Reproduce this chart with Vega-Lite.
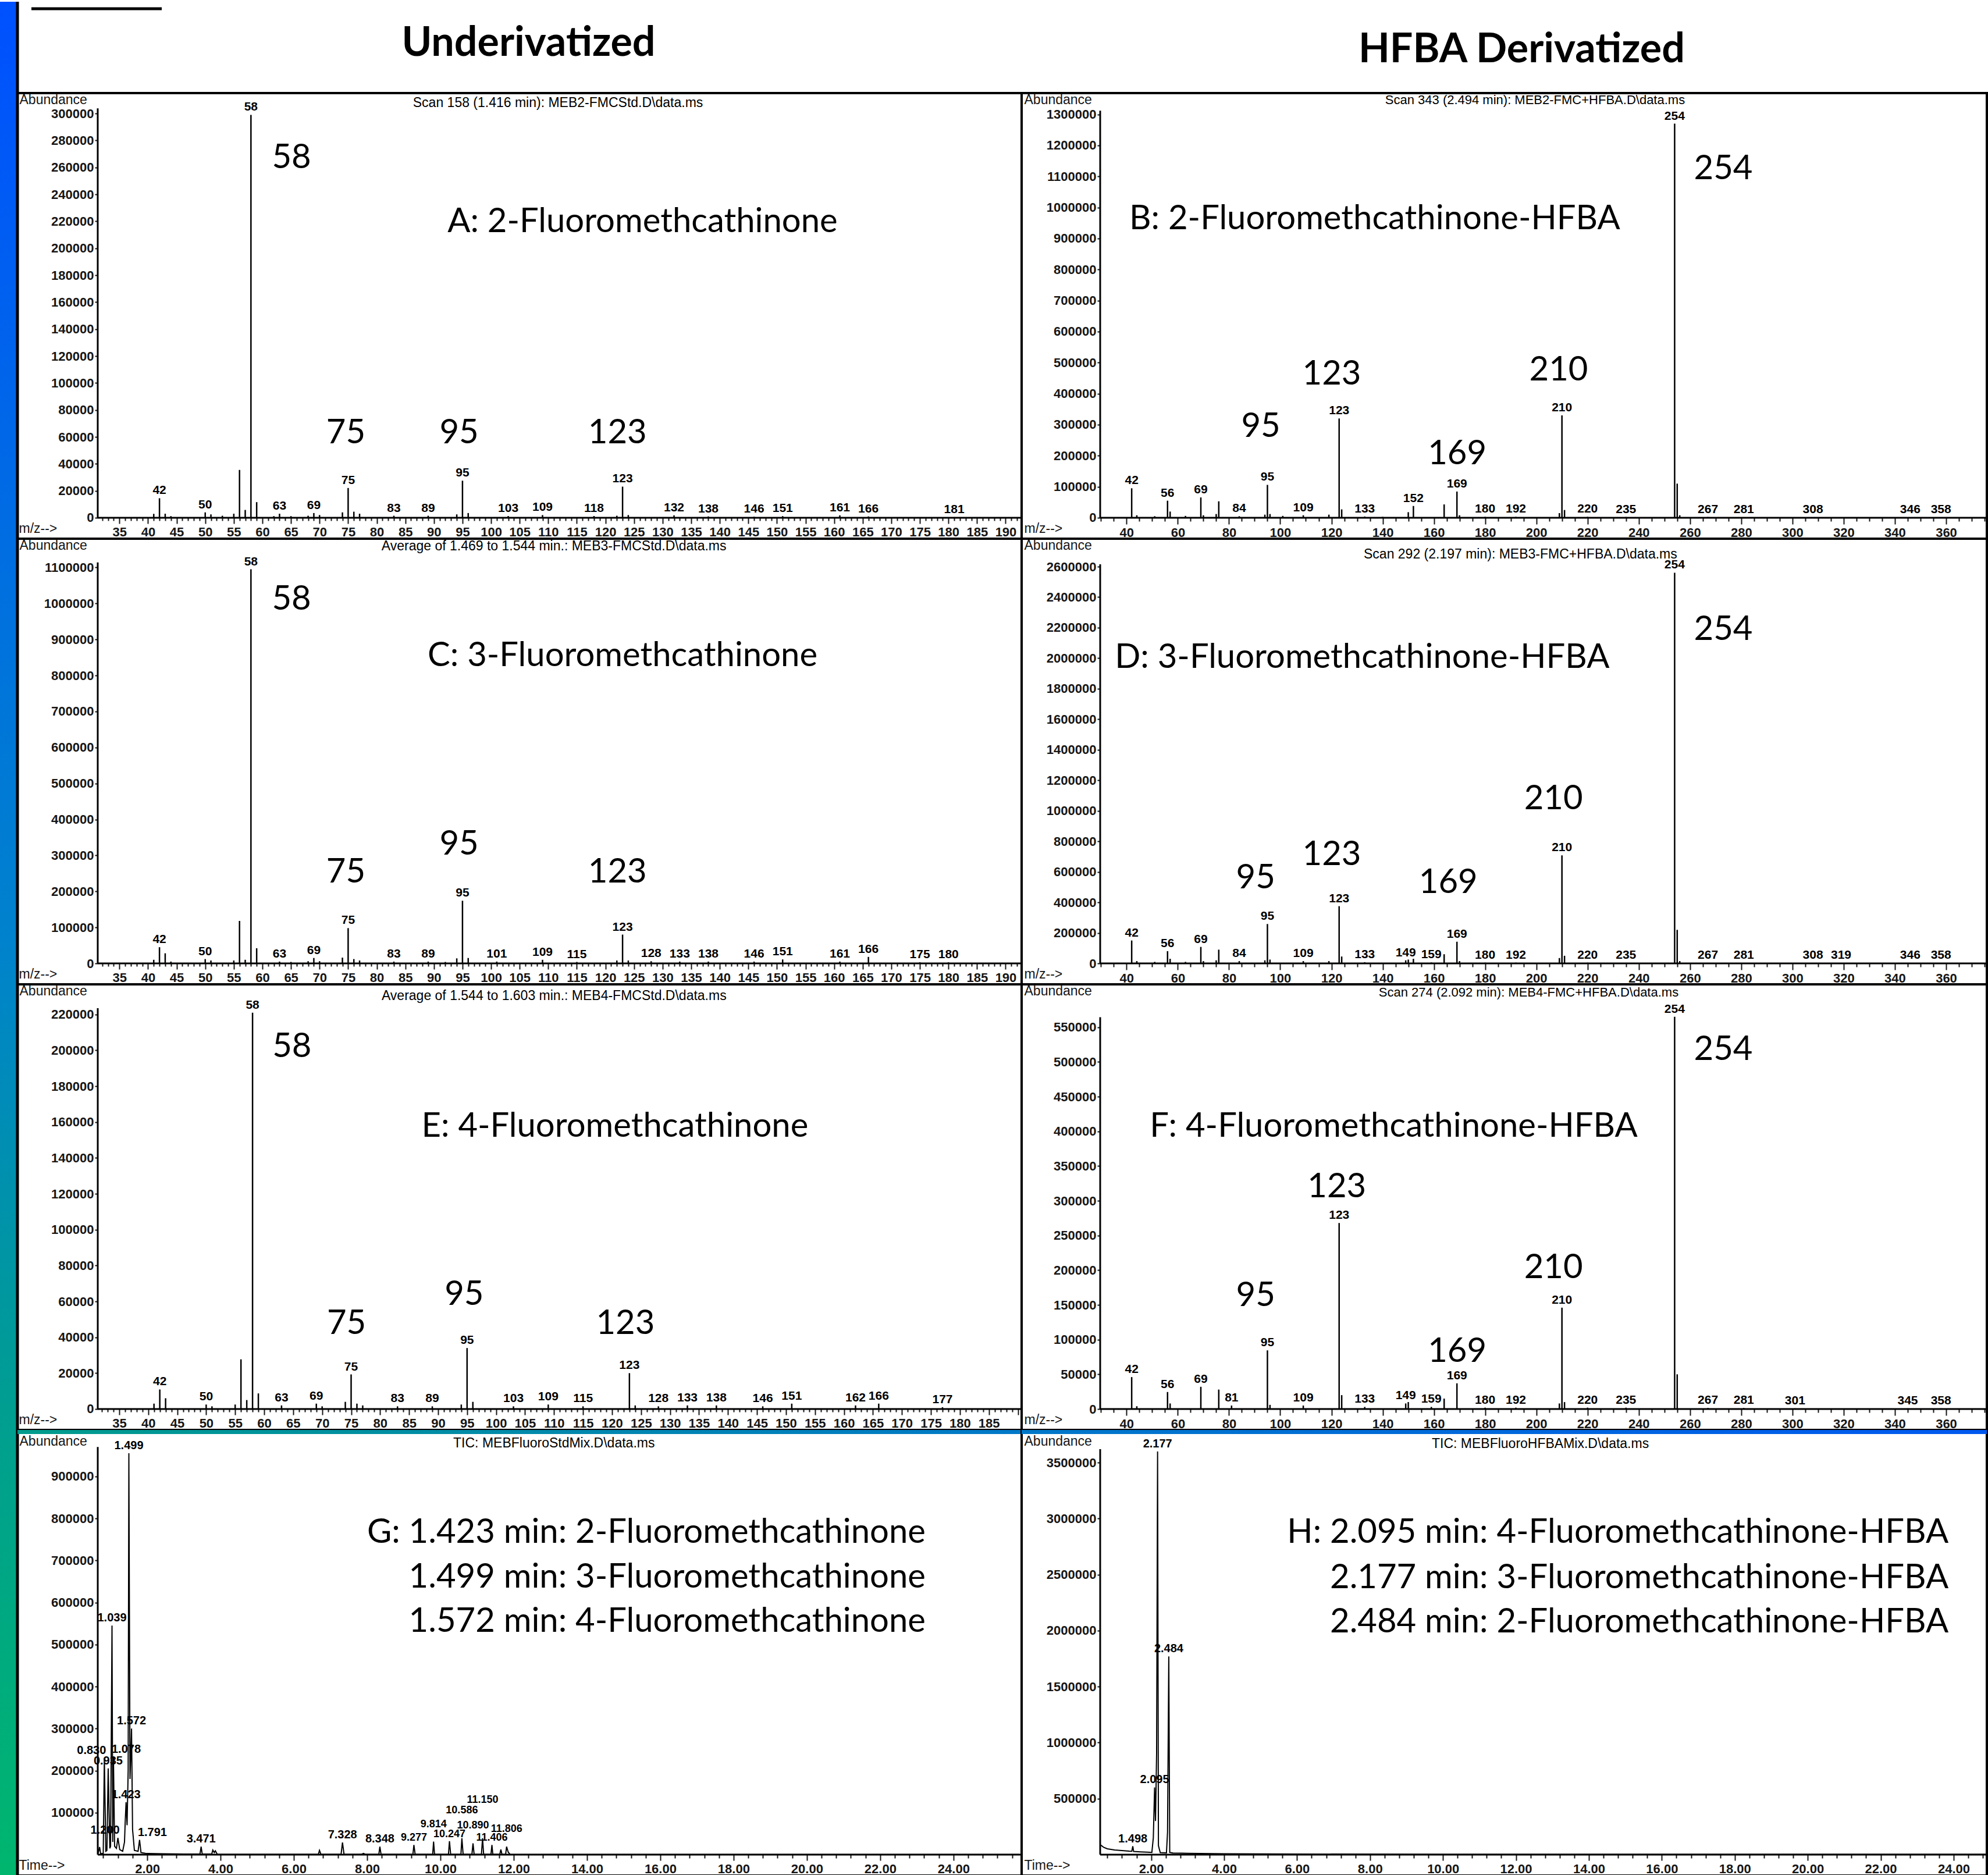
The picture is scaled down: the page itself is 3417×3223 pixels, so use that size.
{
"$schema":"https://vega.github.io/schema/vega-lite/v6.json",
"padding":0,
"background":"white",
"columns":3,
"spacing":0,
"bounds":"flush",
"config":{
 "view":{"stroke":"black","strokeWidth":4},
 "axis":{"grid":false,"domain":false,"labelFont":"Liberation Sans","labelFontSize":22,"labelFontWeight":"bold","labelColor":"#161616","tickColor":"#161616","tickWidth":2,"titleFont":"Liberation Sans","titleFontSize":23,"titleFontWeight":"normal","titleColor":"#161616","labelOverlap":false,"labelFlush":false,"labelBound":false},
 "text":{"color":"black"},
 "rule":{"color":"black"},
 "line":{"color":"black"}
},
"concat":[
{"width":30,"height":157,"view":{"stroke":null},
 "data":{"values":[{"x0":0,"x1":1,"y0":0,"y1":1}]},
 "encoding":{"x":{"field":"x0","type":"quantitative","scale":{"domain":[0,1],"nice":false,"zero":false},"axis":null},"y":{"field":"y0","type":"quantitative","scale":{"domain":[0,1],"nice":false},"axis":null}},
 "layer":[
  {"mark":{"type":"rect","color":{"gradient":"linear","x1":0,"y1":0,"x2":0,"y2":1,"stops":[{"offset":0,"color":"#0050FF"},{"offset":1,"color":"#0055FA"}]}},"encoding":{"x2":{"field":"x1"},"y2":{"field":"y1"}}},
  {"mark":{"type":"rule","strokeWidth":5},"encoding":{"x":{"field":"x1","type":"quantitative"},"y2":{"field":"y1"}}}
 ]},
{"width":1726,"height":157,"view":{"stroke":null},
 "encoding":{"x":{"field":"x","type":"quantitative","scale":{"domain":[0,1],"nice":false,"zero":false},"axis":null},"y":{"field":"y","type":"quantitative","scale":{"domain":[0,1],"nice":false},"axis":null}},
 "layer":[
  {"data":{"values":[{"x":0.509,"y":0.541,"t":"Underivatized"}]},"mark":{"type":"text","font":"Lato","fontWeight":"bold","fontSize":70,"align":"center","baseline":"middle"},"encoding":{"text":{"field":"t"}}},
  {"data":{"values":[{"x":0.0139,"x2":0.1437,"y":0.924}]},"mark":{"type":"rule","strokeWidth":5},"encoding":{"x2":{"field":"x2"}}}
 ]},
{"width":1659,"height":157,"view":{"stroke":null},
 "data":{"values":[{"x":0.518,"y":0.471,"t":"HFBA Derivatized"}]},
 "mark":{"type":"text","font":"Lato","fontWeight":"bold","fontSize":70,"align":"center","baseline":"middle"},
 "encoding":{"x":{"field":"x","type":"quantitative","scale":{"domain":[0,1],"nice":false,"zero":false},"axis":null},"y":{"field":"y","type":"quantitative","scale":{"domain":[0,1],"nice":false},"axis":null},"text":{"field":"t"}}},

{"width":30,"height":766,"view":{"stroke":null},
 "data":{"values":[{"x0":0,"x1":1,"y0":0,"y1":1}]},
 "encoding":{"x":{"field":"x0","type":"quantitative","scale":{"domain":[0,1],"nice":false,"zero":false},"axis":null},"y":{"field":"y0","type":"quantitative","scale":{"domain":[0,1],"nice":false},"axis":null}},
 "layer":[
  {"mark":{"type":"rect","color":{"gradient":"linear","x1":0,"y1":0,"x2":0,"y2":1,"stops":[{"offset":0,"color":"#0055FA"},{"offset":1,"color":"#006DE2"}]}},"encoding":{"x2":{"field":"x1"},"y2":{"field":"y1"}}},
  {"mark":{"type":"rule","strokeWidth":5},"encoding":{"x":{"field":"x1","type":"quantitative"},"y2":{"field":"y1"}}}
 ]},
{"width":1726,"height":766,
 "data":{"values":[{"x":41,"y":2900},{"x":42,"y":14500,"lab":"42"},{"x":43,"y":3000},{"x":44,"y":1200},{"x":50,"y":4000,"lab":"50"},{"x":51,"y":2500},{"x":53,"y":1500},{"x":55,"y":3000},{"x":56,"y":35500},{"x":57,"y":5800},{"x":58,"y":299000,"lab":"58"},{"x":59,"y":11600},{"x":62,"y":1200},{"x":63,"y":3000,"lab":"63"},{"x":65,"y":1200},{"x":68,"y":1500},{"x":69,"y":3500,"lab":"69"},{"x":70,"y":2000},{"x":74,"y":4000},{"x":75,"y":22100,"lab":"75"},{"x":76,"y":4500},{"x":77,"y":3000},{"x":83,"y":1500,"lab":"83"},{"x":89,"y":1500,"lab":"89"},{"x":94,"y":2500},{"x":95,"y":27500,"lab":"95"},{"x":96,"y":3500},{"x":103,"y":1300,"lab":"103"},{"x":109,"y":2000,"lab":"109"},{"x":118,"y":1300,"lab":"118"},{"x":122,"y":1500},{"x":123,"y":23100,"lab":"123"},{"x":124,"y":2000},{"x":132,"y":1800,"lab":"132"},{"x":138,"y":1000,"lab":"138"},{"x":146,"y":800,"lab":"146"},{"x":151,"y":1200,"lab":"151"},{"x":161,"y":1800,"lab":"161"},{"x":166,"y":1000,"lab":"166"},{"x":181,"y":500,"lab":"181"}]},
 "encoding":{
  "x":{"field":"x","type":"quantitative","scale":{"domain":[17.16,192.8],"nice":false,"zero":false},
   "axis":{"values":[32,33,34,35,36,37,38,39,40,41,42,43,44,45,46,47,48,49,50,51,52,53,54,55,56,57,58,59,60,61,62,63,64,65,66,67,68,69,70,71,72,73,74,75,76,77,78,79,80,81,82,83,84,85,86,87,88,89,90,91,92,93,94,95,96,97,98,99,100,101,102,103,104,105,106,107,108,109,110,111,112,113,114,115,116,117,118,119,120,121,122,123,124,125,126,127,128,129,130,131,132,133,134,135,136,137,138,139,140,141,142,143,144,145,146,147,148,149,150,151,152,153,154,155,156,157,158,159,160,161,162,163,164,165,166,167,168,169,170,171,172,173,174,175,176,177,178,179,180,181,182,183,184,185,186,187,188,189,190,191,192],"format":"d","labelExpr":"datum.value % 5 === 0 && datum.value >= 35 && datum.value <= 190 ? datum.label : ''","tickSize":{"condition":{"test":"datum.value % 5 === 0","value":10},"value":5},"labelPadding":4,"offset":-36,"title":"m/z-->","titleX":2,"titleY":18,"titleAlign":"left","titleBaseline":"middle","titleAngle":0}},
  "y":{"field":"y","type":"quantitative","scale":{"domain":[-15542,315150],"nice":false,"zero":false},
   "axis":{"values":[0,20000,40000,60000,80000,100000,120000,140000,160000,180000,200000,220000,240000,260000,280000,300000],"format":"d","tickSize":5,"labelPadding":2,"offset":-138,"title":"Abundance","titleX":-135,"titleY":11,"titleAlign":"left","titleBaseline":"middle","titleAngle":0}}
 },
 "layer":[
  {"mark":{"type":"rule","strokeWidth":2.5},"encoding":{"y2":{"datum":0}}},
  {"transform":[{"filter":"isValid(datum.lab)"}],"mark":{"type":"text","baseline":"bottom","dy":-3,"font":"Liberation Sans","fontSize":21,"fontWeight":"bold"},"encoding":{"text":{"field":"lab"}}},
  {"data":{"values":[{"x":65.1,"y":266900,"t":"58"},{"x":74.6,"y":62500,"t":"75"},{"x":94.4,"y":62500,"t":"95"},{"x":122.1,"y":62500,"t":"123"},{"x":126.5,"y":219500,"t":"A: 2-Fluoromethcathinone"}]},"mark":{"type":"text","font":"Lato","fontSize":58,"baseline":"middle"},"encoding":{"text":{"field":"t"}}},
  {"data":{"values":[{"x":111.7,"y":307600,"t":"Scan 158 (1.416 min): MEB2-FMCStd.D\\data.ms"}]},"mark":{"type":"text","font":"Liberation Sans","fontSize":23,"baseline":"middle"},"encoding":{"text":{"field":"t"}}},
  {"data":{"values":[{"x":31.2,"x2":192.8,"y":0}]},"mark":{"type":"rule","strokeWidth":3},"encoding":{"x2":{"field":"x2"}}},
  {"data":{"values":[{"x":31.2,"y":0,"y2":303800}]},"mark":{"type":"rule","strokeWidth":3},"encoding":{"y2":{"field":"y2"}}}
 ]},
{"width":1659,"height":766,
 "data":{"values":[{"x":42,"y":95000,"lab":"42"},{"x":44,"y":8000},{"x":51,"y":5000},{"x":56,"y":55000,"lab":"56"},{"x":57,"y":20000},{"x":63,"y":6000},{"x":69,"y":65500,"lab":"69"},{"x":70,"y":8000},{"x":75,"y":12000},{"x":76,"y":53000},{"x":84,"y":5000,"lab":"84"},{"x":94,"y":10000},{"x":95,"y":106000,"lab":"95"},{"x":96,"y":12000},{"x":101,"y":6000},{"x":109,"y":8000,"lab":"109"},{"x":119,"y":10000},{"x":123,"y":320000,"lab":"123"},{"x":124,"y":27000},{"x":133,"y":4000,"lab":"133"},{"x":140,"y":3000},{"x":150,"y":18000},{"x":152,"y":38000,"lab":"152"},{"x":164,"y":43000},{"x":169,"y":84500,"lab":"169"},{"x":170,"y":8000},{"x":180,"y":3000,"lab":"180"},{"x":192,"y":3000,"lab":"192"},{"x":209,"y":15000},{"x":210,"y":330000,"lab":"210"},{"x":211,"y":25000},{"x":220,"y":3000,"lab":"220"},{"x":235,"y":2500,"lab":"235"},{"x":254,"y":1270000,"lab":"254"},{"x":255,"y":110000},{"x":256,"y":8000},{"x":267,"y":2500,"lab":"267"},{"x":281,"y":2000,"lab":"281"},{"x":308,"y":1500,"lab":"308"},{"x":346,"y":1500,"lab":"346"},{"x":358,"y":1500,"lab":"358"}]},
 "encoding":{
  "x":{"field":"x","type":"quantitative","scale":{"domain":[-0.97,375.9],"nice":false,"zero":false},
   "axis":{"values":[30,35,40,45,50,55,60,65,70,75,80,85,90,95,100,105,110,115,120,125,130,135,140,145,150,155,160,165,170,175,180,185,190,195,200,205,210,215,220,225,230,235,240,245,250,255,260,265,270,275,280,285,290,295,300,305,310,315,320,325,330,335,340,345,350,355,360,365,370,375],"format":"d","labelExpr":"datum.value % 20 === 0 && datum.value >= 40 && datum.value <= 360 ? datum.label : ''","tickSize":{"condition":{"test":"datum.value % 20 === 0","value":11},"value":6},"labelPadding":4,"offset":-36,"title":"m/z-->","titleX":4,"titleY":18,"titleAlign":"left","titleBaseline":"middle","titleAngle":0}},
  "y":{"field":"y","type":"quantitative","scale":{"domain":[-67495,1368600],"nice":false,"zero":false},
   "axis":{"values":[0,100000,200000,300000,400000,500000,600000,700000,800000,900000,1000000,1100000,1200000,1300000],"format":"d","tickSize":5,"labelPadding":2,"offset":-135,"title":"Abundance","titleX":-131,"titleY":11,"titleAlign":"left","titleBaseline":"middle","titleAngle":0}}
 },
 "layer":[
  {"mark":{"type":"rule","strokeWidth":2.5},"encoding":{"y2":{"datum":0}}},
  {"transform":[{"filter":"isValid(datum.lab)"}],"mark":{"type":"text","baseline":"bottom","dy":-3,"font":"Liberation Sans","fontSize":21,"fontWeight":"bold"},"encoding":{"text":{"field":"lab"}}},
  {"data":{"values":[{"x":273.0,"y":1122800,"t":"254"},{"x":120.1,"y":462000,"t":"123"},{"x":208.7,"y":474000,"t":"210"},{"x":92.4,"y":293000,"t":"95"},{"x":169.1,"y":204000,"t":"169"},{"x":136.9,"y":961000,"t":"B: 2-Fluoromethcathinone-HFBA"}]},"mark":{"type":"text","font":"Lato","fontSize":58,"baseline":"middle"},"encoding":{"text":{"field":"t"}}},
  {"data":{"values":[{"x":199.5,"y":1347000,"t":"Scan 343 (2.494 min): MEB2-FMC+HFBA.D\\data.ms"}]},"mark":{"type":"text","font":"Liberation Sans","fontSize":22,"baseline":"middle"},"encoding":{"text":{"field":"t"}}},
  {"data":{"values":[{"x":29.7,"x2":375.9,"y":0}]},"mark":{"type":"rule","strokeWidth":3},"encoding":{"x2":{"field":"x2"}}},
  {"data":{"values":[{"x":29.7,"y":0,"y2":1312000}]},"mark":{"type":"rule","strokeWidth":3},"encoding":{"y2":{"field":"y2"}}}
 ]},

{"width":30,"height":766,"view":{"stroke":null},
 "data":{"values":[{"x0":0,"x1":1,"y0":0,"y1":1}]},
 "encoding":{"x":{"field":"x0","type":"quantitative","scale":{"domain":[0,1],"nice":false,"zero":false},"axis":null},"y":{"field":"y0","type":"quantitative","scale":{"domain":[0,1],"nice":false},"axis":null}},
 "layer":[
  {"mark":{"type":"rect","color":{"gradient":"linear","x1":0,"y1":0,"x2":0,"y2":1,"stops":[{"offset":0,"color":"#006DE2"},{"offset":0.8975,"color":"#0082CD"},{"offset":1,"color":"#0085C7"}]}},"encoding":{"x2":{"field":"x1"},"y2":{"field":"y1"}}},
  {"mark":{"type":"rule","strokeWidth":5},"encoding":{"x":{"field":"x1","type":"quantitative"},"y2":{"field":"y1"}}}
 ]},
{"width":1726,"height":766,
 "data":{"values":[{"x":41,"y":10000},{"x":42,"y":45000,"lab":"42"},{"x":43,"y":28000},{"x":44,"y":5000},{"x":50,"y":12000,"lab":"50"},{"x":51,"y":8000},{"x":55,"y":8000},{"x":56,"y":118000},{"x":57,"y":10000},{"x":58,"y":1095000,"lab":"58"},{"x":59,"y":42000},{"x":63,"y":5000,"lab":"63"},{"x":65,"y":4000},{"x":68,"y":6000},{"x":69,"y":15000,"lab":"69"},{"x":70,"y":6000},{"x":74,"y":16000},{"x":75,"y":98000,"lab":"75"},{"x":76,"y":12000},{"x":77,"y":8000},{"x":83,"y":5000,"lab":"83"},{"x":89,"y":5000,"lab":"89"},{"x":92,"y":4000},{"x":94,"y":14000},{"x":95,"y":174000,"lab":"95"},{"x":96,"y":15000},{"x":101,"y":5000,"lab":"101"},{"x":109,"y":10000,"lab":"109"},{"x":115,"y":4000,"lab":"115"},{"x":122,"y":8000},{"x":123,"y":80000,"lab":"123"},{"x":124,"y":8000},{"x":128,"y":6000,"lab":"128"},{"x":133,"y":5000,"lab":"133"},{"x":138,"y":5000,"lab":"138"},{"x":146,"y":5000,"lab":"146"},{"x":151,"y":11000,"lab":"151"},{"x":161,"y":5000,"lab":"161"},{"x":166,"y":18000,"lab":"166"},{"x":175,"y":3000,"lab":"175"},{"x":180,"y":3000,"lab":"180"}]},
 "encoding":{
  "x":{"field":"x","type":"quantitative","scale":{"domain":[17.16,192.8],"nice":false,"zero":false},
   "axis":{"values":[32,33,34,35,36,37,38,39,40,41,42,43,44,45,46,47,48,49,50,51,52,53,54,55,56,57,58,59,60,61,62,63,64,65,66,67,68,69,70,71,72,73,74,75,76,77,78,79,80,81,82,83,84,85,86,87,88,89,90,91,92,93,94,95,96,97,98,99,100,101,102,103,104,105,106,107,108,109,110,111,112,113,114,115,116,117,118,119,120,121,122,123,124,125,126,127,128,129,130,131,132,133,134,135,136,137,138,139,140,141,142,143,144,145,146,147,148,149,150,151,152,153,154,155,156,157,158,159,160,161,162,163,164,165,166,167,168,169,170,171,172,173,174,175,176,177,178,179,180,181,182,183,184,185,186,187,188,189,190,191,192],"format":"d","labelExpr":"datum.value % 5 === 0 && datum.value >= 35 && datum.value <= 190 ? datum.label : ''","tickSize":{"condition":{"test":"datum.value % 5 === 0","value":10},"value":5},"labelPadding":4,"offset":-36,"title":"m/z-->","titleX":2,"titleY":18,"titleAlign":"left","titleBaseline":"middle","titleAngle":0}},
  "y":{"field":"y","type":"quantitative","scale":{"domain":[-58187,1179900],"nice":false,"zero":false},
   "axis":{"values":[0,100000,200000,300000,400000,500000,600000,700000,800000,900000,1000000,1100000],"format":"d","tickSize":5,"labelPadding":2,"offset":-138,"title":"Abundance","titleX":-135,"titleY":11,"titleAlign":"left","titleBaseline":"middle","titleAngle":0}}
 },
 "layer":[
  {"mark":{"type":"rule","strokeWidth":2.5},"encoding":{"y2":{"datum":0}}},
  {"transform":[{"filter":"isValid(datum.lab)"}],"mark":{"type":"text","baseline":"bottom","dy":-3,"font":"Liberation Sans","fontSize":21,"fontWeight":"bold"},"encoding":{"text":{"field":"lab"}}},
  {"data":{"values":[{"x":65.1,"y":1009700,"t":"58"},{"x":74.6,"y":252800,"t":"75"},{"x":94.4,"y":329200,"t":"95"},{"x":122.1,"y":252800,"t":"123"},{"x":123.0,"y":853500,"t":"C: 3-Fluoromethcathinone"}]},"mark":{"type":"text","font":"Lato","fontSize":58,"baseline":"middle"},"encoding":{"text":{"field":"t"}}},
  {"data":{"values":[{"x":111.0,"y":1159000,"t":"Average of 1.469 to 1.544 min.: MEB3-FMCStd.D\\data.ms"}]},"mark":{"type":"text","font":"Liberation Sans","fontSize":23,"baseline":"middle"},"encoding":{"text":{"field":"t"}}},
  {"data":{"values":[{"x":31.2,"x2":192.8,"y":0}]},"mark":{"type":"rule","strokeWidth":3},"encoding":{"x2":{"field":"x2"}}},
  {"data":{"values":[{"x":31.2,"y":0,"y2":1114000}]},"mark":{"type":"rule","strokeWidth":3},"encoding":{"y2":{"field":"y2"}}}
 ]},
{"width":1659,"height":766,
 "data":{"values":[{"x":42,"y":150000,"lab":"42"},{"x":44,"y":15000},{"x":51,"y":10000},{"x":56,"y":80000,"lab":"56"},{"x":57,"y":30000},{"x":63,"y":10000},{"x":69,"y":108000,"lab":"69"},{"x":70,"y":15000},{"x":75,"y":20000},{"x":76,"y":90000},{"x":84,"y":15000,"lab":"84"},{"x":94,"y":20000},{"x":95,"y":258000,"lab":"95"},{"x":96,"y":25000},{"x":109,"y":15000,"lab":"109"},{"x":119,"y":15000},{"x":123,"y":375000,"lab":"123"},{"x":124,"y":45000},{"x":133,"y":8000,"lab":"133"},{"x":149,"y":20000,"lab":"149"},{"x":150,"y":25000},{"x":152,"y":30000},{"x":159,"y":6000,"lab":"159"},{"x":164,"y":60000},{"x":169,"y":142000,"lab":"169"},{"x":170,"y":15000},{"x":180,"y":5000,"lab":"180"},{"x":192,"y":5000,"lab":"192"},{"x":209,"y":35000},{"x":210,"y":708000,"lab":"210"},{"x":211,"y":50000},{"x":220,"y":5000,"lab":"220"},{"x":235,"y":4000,"lab":"235"},{"x":254,"y":2560000,"lab":"254"},{"x":255,"y":220000},{"x":256,"y":15000},{"x":267,"y":4000,"lab":"267"},{"x":281,"y":3000,"lab":"281"},{"x":308,"y":2000,"lab":"308"},{"x":319,"y":2000,"lab":"319"},{"x":346,"y":2000,"lab":"346"},{"x":358,"y":2000,"lab":"358"}]},
 "encoding":{
  "x":{"field":"x","type":"quantitative","scale":{"domain":[-0.97,375.9],"nice":false,"zero":false},
   "axis":{"values":[30,35,40,45,50,55,60,65,70,75,80,85,90,95,100,105,110,115,120,125,130,135,140,145,150,155,160,165,170,175,180,185,190,195,200,205,210,215,220,225,230,235,240,245,250,255,260,265,270,275,280,285,290,295,300,305,310,315,320,325,330,335,340,345,350,355,360,365,370,375],"format":"d","labelExpr":"datum.value % 20 === 0 && datum.value >= 40 && datum.value <= 360 ? datum.label : ''","tickSize":{"condition":{"test":"datum.value % 20 === 0","value":11},"value":6},"labelPadding":4,"offset":-36,"title":"m/z-->","titleX":4,"titleY":18,"titleAlign":"left","titleBaseline":"middle","titleAngle":0}},
  "y":{"field":"y","type":"quantitative","scale":{"domain":[-137244,2783000],"nice":false,"zero":false},
   "axis":{"values":[0,200000,400000,600000,800000,1000000,1200000,1400000,1600000,1800000,2000000,2200000,2400000,2600000],"format":"d","tickSize":5,"labelPadding":2,"offset":-135,"title":"Abundance","titleX":-131,"titleY":11,"titleAlign":"left","titleBaseline":"middle","titleAngle":0}}
 },
 "layer":[
  {"mark":{"type":"rule","strokeWidth":2.5},"encoding":{"y2":{"datum":0}}},
  {"transform":[{"filter":"isValid(datum.lab)"}],"mark":{"type":"text","baseline":"bottom","dy":-3,"font":"Liberation Sans","fontSize":21,"fontWeight":"bold"},"encoding":{"text":{"field":"lab"}}},
  {"data":{"values":[{"x":273.0,"y":2183000,"t":"254"},{"x":206.7,"y":1075000,"t":"210"},{"x":120.1,"y":708000,"t":"123"},{"x":165.6,"y":525000,"t":"169"},{"x":90.4,"y":558000,"t":"95"},{"x":132.0,"y":2000000,"t":"D: 3-Fluoromethcathinone-HFBA"}]},"mark":{"type":"text","font":"Lato","fontSize":58,"baseline":"middle"},"encoding":{"text":{"field":"t"}}},
  {"data":{"values":[{"x":193.8,"y":2680000,"t":"Scan 292 (2.197 min): MEB3-FMC+HFBA.D\\data.ms"}]},"mark":{"type":"text","font":"Liberation Sans","fontSize":23,"baseline":"middle"},"encoding":{"text":{"field":"t"}}},
  {"data":{"values":[{"x":29.7,"x2":375.9,"y":0}]},"mark":{"type":"rule","strokeWidth":3},"encoding":{"x2":{"field":"x2"}}},
  {"data":{"values":[{"x":29.7,"y":0,"y2":2615000}]},"mark":{"type":"rule","strokeWidth":3},"encoding":{"y2":{"field":"y2"}}}
 ]},

{"width":30,"height":766,"view":{"stroke":null},
 "data":{"values":[{"x0":0,"x1":1,"y0":0,"y1":1}]},
 "encoding":{"x":{"field":"x0","type":"quantitative","scale":{"domain":[0,1],"nice":false,"zero":false},"axis":null},"y":{"field":"y0","type":"quantitative","scale":{"domain":[0,1],"nice":false},"axis":null}},
 "layer":[
  {"mark":{"type":"rect","color":{"gradient":"linear","x1":0,"y1":0,"x2":0,"y2":1,"stops":[{"offset":0,"color":"#0085C7"},{"offset":0.9488,"color":"#009E91"},{"offset":1,"color":"#009F8F"}]}},"encoding":{"x2":{"field":"x1"},"y2":{"field":"y1"}}},
  {"mark":{"type":"rule","strokeWidth":5},"encoding":{"x":{"field":"x1","type":"quantitative"},"y2":{"field":"y1"}}}
 ]},
{"width":1726,"height":766,
 "data":{"values":[{"x":41,"y":3000},{"x":42,"y":10900,"lab":"42"},{"x":43,"y":6000},{"x":50,"y":2500,"lab":"50"},{"x":51,"y":1500},{"x":55,"y":2500},{"x":56,"y":27700},{"x":57,"y":5000},{"x":58,"y":221000,"lab":"58"},{"x":59,"y":8700},{"x":63,"y":2000,"lab":"63"},{"x":69,"y":3000,"lab":"69"},{"x":70,"y":1500},{"x":74,"y":4000},{"x":75,"y":19300,"lab":"75"},{"x":76,"y":3000},{"x":77,"y":2000},{"x":83,"y":1500,"lab":"83"},{"x":89,"y":1500,"lab":"89"},{"x":94,"y":2500},{"x":95,"y":34000,"lab":"95"},{"x":96,"y":4000},{"x":103,"y":1500,"lab":"103"},{"x":109,"y":2500,"lab":"109"},{"x":115,"y":1500,"lab":"115"},{"x":123,"y":20000,"lab":"123"},{"x":124,"y":2000},{"x":128,"y":1500,"lab":"128"},{"x":133,"y":2000,"lab":"133"},{"x":138,"y":2000,"lab":"138"},{"x":146,"y":1500,"lab":"146"},{"x":151,"y":3000,"lab":"151"},{"x":162,"y":2000,"lab":"162"},{"x":166,"y":3000,"lab":"166"},{"x":177,"y":1000,"lab":"177"}]},
 "encoding":{
  "x":{"field":"x","type":"quantitative","scale":{"domain":[17.45,190.65],"nice":false,"zero":false},
   "axis":{"values":[32,33,34,35,36,37,38,39,40,41,42,43,44,45,46,47,48,49,50,51,52,53,54,55,56,57,58,59,60,61,62,63,64,65,66,67,68,69,70,71,72,73,74,75,76,77,78,79,80,81,82,83,84,85,86,87,88,89,90,91,92,93,94,95,96,97,98,99,100,101,102,103,104,105,106,107,108,109,110,111,112,113,114,115,116,117,118,119,120,121,122,123,124,125,126,127,128,129,130,131,132,133,134,135,136,137,138,139,140,141,142,143,144,145,146,147,148,149,150,151,152,153,154,155,156,157,158,159,160,161,162,163,164,165,166,167,168,169,170,171,172,173,174,175,176,177,178,179,180,181,182,183,184,185,186,187,188,189,190],"format":"d","labelExpr":"datum.value % 5 === 0 && datum.value >= 35 && datum.value <= 185 ? datum.label : ''","tickSize":{"condition":{"test":"datum.value % 5 === 0","value":10},"value":5},"labelPadding":4,"offset":-36,"title":"m/z-->","titleX":2,"titleY":18,"titleAlign":"left","titleBaseline":"middle","titleAngle":0}},
  "y":{"field":"y","type":"quantitative","scale":{"domain":[-11678,236800],"nice":false,"zero":false},
   "axis":{"values":[0,20000,40000,60000,80000,100000,120000,140000,160000,180000,200000,220000],"format":"d","tickSize":5,"labelPadding":2,"offset":-138,"title":"Abundance","titleX":-135,"titleY":11,"titleAlign":"left","titleBaseline":"middle","titleAngle":0}}
 },
 "layer":[
  {"mark":{"type":"rule","strokeWidth":2.5},"encoding":{"y2":{"datum":0}}},
  {"transform":[{"filter":"isValid(datum.lab)"}],"mark":{"type":"text","baseline":"bottom","dy":-3,"font":"Liberation Sans","fontSize":21,"fontWeight":"bold"},"encoding":{"text":{"field":"lab"}}},
  {"data":{"values":[{"x":64.8,"y":201700,"t":"58"},{"x":74.2,"y":47400,"t":"75"},{"x":94.5,"y":63500,"t":"95"},{"x":122.3,"y":47400,"t":"123"},{"x":120.5,"y":157200,"t":"E: 4-Fluoromethcathinone"}]},"mark":{"type":"text","font":"Lato","fontSize":58,"baseline":"middle"},"encoding":{"text":{"field":"t"}}},
  {"data":{"values":[{"x":110.0,"y":230200,"t":"Average of 1.544 to 1.603 min.: MEB4-FMCStd.D\\data.ms"}]},"mark":{"type":"text","font":"Liberation Sans","fontSize":23,"baseline":"middle"},"encoding":{"text":{"field":"t"}}},
  {"data":{"values":[{"x":31.3,"x2":190.65,"y":0}]},"mark":{"type":"rule","strokeWidth":3},"encoding":{"x2":{"field":"x2"}}},
  {"data":{"values":[{"x":31.3,"y":0,"y2":223500}]},"mark":{"type":"rule","strokeWidth":3},"encoding":{"y2":{"field":"y2"}}}
 ]},
{"width":1659,"height":766,
 "data":{"values":[{"x":42,"y":46000,"lab":"42"},{"x":44,"y":4000},{"x":56,"y":24500,"lab":"56"},{"x":57,"y":8000},{"x":69,"y":32000,"lab":"69"},{"x":76,"y":28000},{"x":81,"y":5000,"lab":"81"},{"x":95,"y":84500,"lab":"95"},{"x":96,"y":6000},{"x":109,"y":5000,"lab":"109"},{"x":123,"y":268000,"lab":"123"},{"x":124,"y":20000},{"x":133,"y":3000,"lab":"133"},{"x":149,"y":8000,"lab":"149"},{"x":150,"y":10000},{"x":159,"y":3000,"lab":"159"},{"x":164,"y":15000},{"x":169,"y":37000,"lab":"169"},{"x":180,"y":2000,"lab":"180"},{"x":192,"y":2000,"lab":"192"},{"x":209,"y":8000},{"x":210,"y":146000,"lab":"210"},{"x":211,"y":10000},{"x":220,"y":2000,"lab":"220"},{"x":235,"y":2000,"lab":"235"},{"x":254,"y":565000,"lab":"254"},{"x":255,"y":50000},{"x":267,"y":1500,"lab":"267"},{"x":281,"y":1500,"lab":"281"},{"x":301,"y":1000,"lab":"301"},{"x":345,"y":1000,"lab":"345"},{"x":358,"y":1000,"lab":"358"}]},
 "encoding":{
  "x":{"field":"x","type":"quantitative","scale":{"domain":[-0.97,375.9],"nice":false,"zero":false},
   "axis":{"values":[30,35,40,45,50,55,60,65,70,75,80,85,90,95,100,105,110,115,120,125,130,135,140,145,150,155,160,165,170,175,180,185,190,195,200,205,210,215,220,225,230,235,240,245,250,255,260,265,270,275,280,285,290,295,300,305,310,315,320,325,330,335,340,345,350,355,360,365,370,375],"format":"d","labelExpr":"datum.value % 20 === 0 && datum.value >= 40 && datum.value <= 360 ? datum.label : ''","tickSize":{"condition":{"test":"datum.value % 20 === 0","value":11},"value":6},"labelPadding":4,"offset":-36,"title":"m/z-->","titleX":4,"titleY":18,"titleAlign":"left","titleBaseline":"middle","titleAngle":0}},
  "y":{"field":"y","type":"quantitative","scale":{"domain":[-30171,611800],"nice":false,"zero":false},
   "axis":{"values":[0,50000,100000,150000,200000,250000,300000,350000,400000,450000,500000,550000],"format":"d","tickSize":5,"labelPadding":2,"offset":-135,"title":"Abundance","titleX":-131,"titleY":11,"titleAlign":"left","titleBaseline":"middle","titleAngle":0}}
 },
 "layer":[
  {"mark":{"type":"rule","strokeWidth":2.5},"encoding":{"y2":{"datum":0}}},
  {"transform":[{"filter":"isValid(datum.lab)"}],"mark":{"type":"text","baseline":"bottom","dy":-3,"font":"Liberation Sans","fontSize":21,"fontWeight":"bold"},"encoding":{"text":{"field":"lab"}}},
  {"data":{"values":[{"x":273.0,"y":517300,"t":"254"},{"x":122.1,"y":319100,"t":"123"},{"x":206.7,"y":202700,"t":"210"},{"x":90.4,"y":162700,"t":"95"},{"x":169.1,"y":81800,"t":"169"},{"x":144.3,"y":406400,"t":"F: 4-Fluoromethcathinone-HFBA"}]},"mark":{"type":"text","font":"Lato","fontSize":58,"baseline":"middle"},"encoding":{"text":{"field":"t"}}},
  {"data":{"values":[{"x":197.0,"y":600000,"t":"Scan 274 (2.092 min): MEB4-FMC+HFBA.D\\data.ms"}]},"mark":{"type":"text","font":"Liberation Sans","fontSize":22,"baseline":"middle"},"encoding":{"text":{"field":"t"}}},
  {"data":{"values":[{"x":29.7,"x2":375.9,"y":0}]},"mark":{"type":"rule","strokeWidth":3},"encoding":{"x2":{"field":"x2"}}},
  {"data":{"values":[{"x":29.7,"y":0,"y2":564500}]},"mark":{"type":"rule","strokeWidth":3},"encoding":{"y2":{"field":"y2"}}}
 ]},

{"width":30,"height":766,"view":{"stroke":null},
 "data":{"values":[{"x0":0,"x1":1,"y0":0,"y1":1}]},
 "encoding":{"x":{"field":"x0","type":"quantitative","scale":{"domain":[0,1],"nice":false,"zero":false},"axis":null},"y":{"field":"y0","type":"quantitative","scale":{"domain":[0,1],"nice":false},"axis":null}},
 "layer":[
  {"mark":{"type":"rect","color":{"gradient":"linear","x1":0,"y1":0,"x2":0,"y2":1,"stops":[{"offset":0,"color":"#009F8F"},{"offset":1,"color":"#00B66E"}]}},"encoding":{"x2":{"field":"x1"},"y2":{"field":"y1"}}},
  {"mark":{"type":"rule","strokeWidth":5},"encoding":{"x":{"field":"x1","type":"quantitative"},"y2":{"field":"y1"}}}
 ]},
{"width":1726,"height":766,
 "data":{"values":[{"x":0.66,"y":3000},{"x":0.70,"y":18000},{"x":0.73,"y":2000},{"x":0.80,"y":3000},{"x":0.83,"y":230000,"lab":"0.830","al":"r"},{"x":0.87,"y":8000},{"x":0.90,"y":10000},{"x":0.935,"y":205000,"lab":"0.935"},{"x":0.98,"y":15000},{"x":1.00,"y":20000},{"x":1.039,"y":545000,"lab":"1.039"},{"x":1.06,"y":30000},{"x":1.078,"y":232000,"lab":"1.078","al":"l"},{"x":1.11,"y":20000},{"x":1.16,"y":15000},{"x":1.20,"y":40000,"lab":"1.200","al":"r"},{"x":1.25,"y":12000},{"x":1.33,"y":8000},{"x":1.38,"y":30000},{"x":1.40,"y":80000},{"x":1.423,"y":125000,"lab":"1.423"},{"x":1.45,"y":70000},{"x":1.48,"y":200000},{"x":1.499,"y":955000,"lab":"1.499"},{"x":1.53,"y":180000},{"x":1.55,"y":230000},{"x":1.572,"y":300000,"lab":"1.572"},{"x":1.60,"y":60000},{"x":1.65,"y":10000},{"x":1.75,"y":8000},{"x":1.791,"y":35000,"lab":"1.791","al":"l"},{"x":1.83,"y":5000},{"x":1.95,"y":3000},{"x":2.4,"y":2000},{"x":3.0,"y":1500},{"x":3.44,"y":1500},{"x":3.471,"y":19000,"lab":"3.471"},{"x":3.50,"y":1500},{"x":3.76,"y":1500},{"x":3.79,"y":11000},{"x":3.83,"y":5000},{"x":3.86,"y":9000},{"x":3.91,"y":1000},{"x":5.0,"y":800},{"x":6.67,"y":800},{"x":6.70,"y":10000},{"x":6.74,"y":800},{"x":7.29,"y":800},{"x":7.328,"y":29000,"lab":"7.328"},{"x":7.37,"y":800},{"x":7.85,"y":800},{"x":7.9,"y":3000},{"x":7.95,"y":800},{"x":8.32,"y":800},{"x":8.348,"y":19000,"lab":"8.348"},{"x":8.38,"y":800},{"x":9.25,"y":800},{"x":9.277,"y":23000,"lab":"9.277","lv":0},{"x":9.31,"y":800},{"x":9.79,"y":800},{"x":9.814,"y":31000,"lab":"9.814","lv":1},{"x":9.84,"y":800},{"x":10.22,"y":800},{"x":10.247,"y":32000,"lab":"10.247","lv":0},{"x":10.28,"y":800},{"x":10.56,"y":800},{"x":10.586,"y":39000,"lab":"10.586","lv":2},{"x":10.62,"y":800},{"x":10.86,"y":800},{"x":10.89,"y":27000,"lab":"10.890","lv":1},{"x":10.92,"y":800},{"x":11.12,"y":800},{"x":11.15,"y":39000,"lab":"11.150","lv":3},{"x":11.18,"y":800},{"x":11.38,"y":800},{"x":11.406,"y":23000,"lab":"11.406","lv":0},{"x":11.43,"y":800},{"x":11.62,"y":800},{"x":11.65,"y":12000},{"x":11.68,"y":800},{"x":11.78,"y":800},{"x":11.806,"y":19000,"lab":"11.806","lv":1},{"x":11.85,"y":6000},{"x":11.9,"y":800},{"x":12.5,"y":500},{"x":25.8,"y":500}]},
 "encoding":{
  "x":{"field":"x","type":"quantitative","scale":{"domain":[-1.541,25.86],"nice":false,"zero":false},
   "axis":{"values":[0.8,1.2,1.6,2,2.4,2.8,3.2,3.6,4,4.4,4.8,5.2,5.6,6,6.4,6.8,7.2,7.6,8,8.4,8.8,9.2,9.6,10,10.4,10.8,11.2,11.6,12,12.4,12.8,13.2,13.6,14,14.4,14.8,15.2,15.6,16,16.4,16.8,17.2,17.6,18,18.4,18.8,19.2,19.6,20,20.4,20.8,21.2,21.6,22,22.4,22.8,23.2,23.6,24,24.4,24.8,25.2,25.6],"labelExpr":"datum.value >= 2 && abs(datum.value/2 - round(datum.value/2)) < 0.01 ? format(datum.value, '.2f') : ''","tickSize":{"condition":{"test":"abs(datum.value/2 - round(datum.value/2)) < 0.01","value":10},"value":6},"labelPadding":4,"offset":-36,"title":"Time-->","titleX":2,"titleY":18,"titleAlign":"left","titleBaseline":"middle","titleAngle":0}},
  "y":{"field":"y","type":"quantitative","scale":{"domain":[-49828,1010400],"nice":false,"zero":false},
   "axis":{"values":[100000,200000,300000,400000,500000,600000,700000,800000,900000],"format":"d","tickSize":5,"labelPadding":2,"offset":-138,"title":"Abundance","titleX":-135,"titleY":19,"titleAlign":"left","titleBaseline":"middle","titleAngle":0}}
 },
 "layer":[
  {"data":{"values":[{"x":-1.541,"x2":25.86,"y":1010400,"y2":1000700}]},"mark":{"type":"rect","color":{"gradient":"linear","x1":0,"y1":0,"x2":1,"y2":0,"stops":[{"offset":0,"color":"#009C8C"},{"offset":1,"color":"#0078C8"}]}},"encoding":{"x2":{"field":"x2"},"y2":{"field":"y2"}}},
  {"mark":{"type":"line","strokeWidth":2}},
  {"transform":[{"filter":"isValid(datum.lab) && !isValid(datum.lv) && !isValid(datum.al)"}],"mark":{"type":"text","baseline":"bottom","dy":-3,"font":"Liberation Sans","fontSize":20,"fontWeight":"bold"},"encoding":{"text":{"field":"lab"}}},
  {"transform":[{"filter":"datum.al === 'r'"}],"mark":{"type":"text","align":"right","dx":3,"baseline":"bottom","dy":-3,"font":"Liberation Sans","fontSize":20,"fontWeight":"bold"},"encoding":{"text":{"field":"lab"}}},
  {"transform":[{"filter":"datum.al === 'l'"}],"mark":{"type":"text","align":"left","dx":-3,"baseline":"bottom","dy":-3,"font":"Liberation Sans","fontSize":20,"fontWeight":"bold"},"encoding":{"text":{"field":"lab"}}},
  {"transform":[{"filter":"datum.lv === 0"}],"mark":{"type":"text","baseline":"bottom","dy":-3,"font":"Liberation Sans","fontSize":18,"fontWeight":"bold"},"encoding":{"text":{"field":"lab"}}},
  {"transform":[{"filter":"datum.lv === 1"}],"mark":{"type":"text","baseline":"bottom","dy":-21,"font":"Liberation Sans","fontSize":18,"fontWeight":"bold"},"encoding":{"text":{"field":"lab"}}},
  {"transform":[{"filter":"datum.lv === 2"}],"mark":{"type":"text","baseline":"bottom","dy":-39,"font":"Liberation Sans","fontSize":18,"fontWeight":"bold"},"encoding":{"text":{"field":"lab"}}},
  {"transform":[{"filter":"datum.lv === 3"}],"mark":{"type":"text","baseline":"bottom","dy":-57,"font":"Liberation Sans","fontSize":18,"fontWeight":"bold"},"encoding":{"text":{"field":"lab"}}},
  {"data":{"values":[{"x":23.24,"y":765700,"t":"G: 1.423 min: 2-Fluoromethcathinone"},{"x":23.24,"y":658200,"t":"1.499 min: 3-Fluoromethcathinone"},{"x":23.24,"y":553700,"t":"1.572 min: 4-Fluoromethcathinone"}]},"mark":{"type":"text","font":"Lato","fontSize":58,"align":"right","baseline":"middle"},"encoding":{"text":{"field":"t"}}},
  {"data":{"values":[{"x":13.10,"y":978000,"t":"TIC: MEBFluoroStdMix.D\\data.ms"}]},"mark":{"type":"text","font":"Liberation Sans","fontSize":23,"baseline":"middle"},"encoding":{"text":{"field":"t"}}},
  {"data":{"values":[{"x":0.65,"x2":25.86,"y":0}]},"mark":{"type":"rule","strokeWidth":3},"encoding":{"x2":{"field":"x2"}}},
  {"data":{"values":[{"x":0.65,"y":0,"y2":970000}]},"mark":{"type":"rule","strokeWidth":3},"encoding":{"y2":{"field":"y2"}}}
 ]},
{"width":1659,"height":766,
 "data":{"values":[{"x":0.62,"y":85000},{"x":0.7,"y":65000},{"x":0.8,"y":52000},{"x":1.0,"y":42000},{"x":1.2,"y":36000},{"x":1.4,"y":31000},{"x":1.47,"y":30000},{"x":1.498,"y":75000,"lab":"1.498"},{"x":1.52,"y":28000},{"x":1.7,"y":25000},{"x":1.9,"y":22000},{"x":2.02,"y":20000},{"x":2.06,"y":150000},{"x":2.095,"y":600000,"lab":"2.095"},{"x":2.12,"y":300000},{"x":2.15,"y":900000},{"x":2.177,"y":3600000,"lab":"2.177"},{"x":2.2,"y":80000},{"x":2.25,"y":18000},{"x":2.42,"y":16000},{"x":2.45,"y":200000},{"x":2.484,"y":1770000,"lab":"2.484"},{"x":2.51,"y":20000},{"x":2.6,"y":14000},{"x":3.0,"y":12000},{"x":4.0,"y":8000},{"x":6.0,"y":5000},{"x":10.0,"y":3000},{"x":24.9,"y":2000}]},
 "encoding":{
  "x":{"field":"x","type":"quantitative","scale":{"domain":[-1.55,24.91],"nice":false,"zero":false},
   "axis":{"values":[0.8,1.2,1.6,2,2.4,2.8,3.2,3.6,4,4.4,4.8,5.2,5.6,6,6.4,6.8,7.2,7.6,8,8.4,8.8,9.2,9.6,10,10.4,10.8,11.2,11.6,12,12.4,12.8,13.2,13.6,14,14.4,14.8,15.2,15.6,16,16.4,16.8,17.2,17.6,18,18.4,18.8,19.2,19.6,20,20.4,20.8,21.2,21.6,22,22.4,22.8,23.2,23.6,24,24.4,24.8],"labelExpr":"datum.value >= 2 && abs(datum.value/2 - round(datum.value/2)) < 0.01 ? format(datum.value, '.2f') : ''","tickSize":{"condition":{"test":"abs(datum.value/2 - round(datum.value/2)) < 0.01","value":10},"value":6},"labelPadding":4,"offset":-36,"title":"Time-->","titleX":4,"titleY":18,"titleAlign":"left","titleBaseline":"middle","titleAngle":0}},
  "y":{"field":"y","type":"quantitative","scale":{"domain":[-187003,3792000],"nice":false,"zero":false},
   "axis":{"values":[500000,1000000,1500000,2000000,2500000,3000000,3500000],"format":"d","tickSize":5,"labelPadding":2,"offset":-135,"title":"Abundance","titleX":-131,"titleY":19,"titleAlign":"left","titleBaseline":"middle","titleAngle":0}}
 },
 "layer":[
  {"data":{"values":[{"x":-1.55,"x2":24.91,"y":3792000,"y2":3755600}]},"mark":{"type":"rect","color":{"gradient":"linear","x1":0,"y1":0,"x2":1,"y2":0,"stops":[{"offset":0,"color":"#0078C8"},{"offset":1,"color":"#0058F0"}]}},"encoding":{"x2":{"field":"x2"},"y2":{"field":"y2"}}},
  {"mark":{"type":"line","strokeWidth":2}},
  {"transform":[{"filter":"isValid(datum.lab)"}],"mark":{"type":"text","baseline":"bottom","dy":-3,"font":"Liberation Sans","fontSize":20,"fontWeight":"bold"},"encoding":{"text":{"field":"lab"}}},
  {"data":{"values":[{"x":23.86,"y":2871000,"t":"H: 2.095 min: 4-Fluoromethcathinone-HFBA"},{"x":23.86,"y":2466000,"t":"2.177 min: 3-Fluoromethcathinone-HFBA"},{"x":23.86,"y":2073000,"t":"2.484 min: 2-Fluoromethcathinone-HFBA"}]},"mark":{"type":"text","font":"Lato","fontSize":58,"align":"right","baseline":"middle"},"encoding":{"text":{"field":"t"}}},
  {"data":{"values":[{"x":12.67,"y":3665000,"t":"TIC: MEBFluoroHFBAMix.D\\data.ms"}]},"mark":{"type":"text","font":"Liberation Sans","fontSize":23,"baseline":"middle"},"encoding":{"text":{"field":"t"}}},
  {"data":{"values":[{"x":0.603,"x2":24.91,"y":0}]},"mark":{"type":"rule","strokeWidth":3},"encoding":{"x2":{"field":"x2"}}},
  {"data":{"values":[{"x":0.603,"y":0,"y2":3620000}]},"mark":{"type":"rule","strokeWidth":3},"encoding":{"y2":{"field":"y2"}}}
 ]}
]
}
